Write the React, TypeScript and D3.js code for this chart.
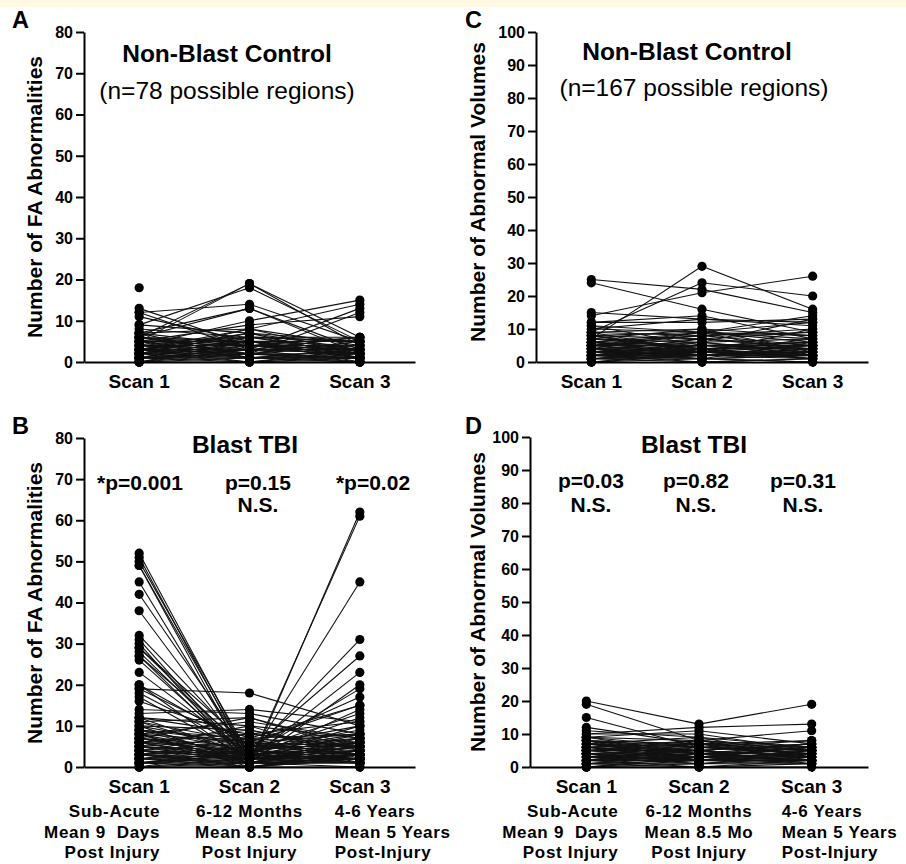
import { useEffect, useRef } from 'react';
import * as d3 from 'd3';

const scanLabels = ['Scan 1', 'Scan 2', 'Scan 3'];
const blastSubLabels = [
  ['Sub-Acute', 'Mean 9  Days', 'Post Injury'],
  ['6-12 Months', 'Mean 8.5 Mo', 'Post Injury'],
  ['4-6 Years', 'Mean 5 Years', 'Post-Injury'],
];
const faTicks = [0, 10, 20, 30, 40, 50, 60, 70, 80];
const volTicks = [0, 10, 20, 30, 40, 50, 60, 70, 80, 90, 100];

// A: FA abnormalities, non-blast control (one entry per subject)
const faControlScan1 = [18, 12, 12, 13, 11, 9, 5, 6, 6, 7, 4, 3, 2, 1, 5, 8, 9, 7, 6, 5, 4, 3, 2, 1, 0, 0, 1, 2, 3, 4, 5, 6, 7, 3, 2, 1, 0, 4, 5, 6, 3, 2, 1, 0, 4, 3, 2, 5, 6, 1, 0, 2, 3, 4, 5, 7, 1, 0, 2, 3];
const faControlScan2 = [null, 14, 3, 4, 5, 18, 19, 19, 13, 13, 10, 8, 3, 2, 9, 6, 7, 8, 5, 6, 4, 5, 7, 3, 2, 1, 0, 1, 2, 3, 4, 2, 1, 6, 4, 5, 3, 1, 2, 3, 0, 2, 1, 0, 6, 7, 8, 1, 4, 6, 4, 5, 3, 2, 5, 4, 2, 5, 0, 1];
const faControlScan3 = [null, 5, 2, 1, 3, 5, 4, 6, 3, 2, 15, 14, 13, 12, 11, 6, 5, 4, 5, 3, 6, 2, 1, 0, 1, 0, 2, 3, 1, 4, 2, 1, 0, 5, 3, 4, 2, 1, 0, 3, 1, 2, 1, 0, 2, 3, 2, 3, 4, 5, 3, 0, 6, 5, 1, 2, 4, 1, 3, 2];

// B: FA abnormalities, blast TBI
const faBlastScan1 = [52, 51, 50, 49, 49, 45, 42, 38, 32, 31, 30, 29, 29, 28, 27, 27, 26, 23, 20, 20, 19, 19, 18, 17, 16, 14, 13, 12, 12, 11, 11, 10, 10, 3, 2, 4, 5, 1, 6, 8, 7, 2, 9, 3, 4, 5, 1, 6, 0, 7, 9, 8, 7, 6, 5, 4, 3, 2, 1, 0, 9, 8, 7, 6, 5, 4, 3, 2, 1, 0, 8, 7, 6, 5, 4, 3, 2, 1, 0, 9, 10, 11, 12, 8, 6, 5, 4, 3, 2, 1];
const faBlastScan2 = [2, 1, 3, 0, 2, 1, 3, 2, 4, 1, 0, 3, 5, 2, 1, 4, 2, 3, 5, 1, 18, 6, 4, 2, 7, 13, 14, 10, 8, 12, 3, 9, 5, 0, 1, 2, 3, 4, 2, 1, 3, 5, 6, 7, 2, 4, 3, 8, 2, 5, 4, 6, 2, 5, 1, 3, 2, 4, 1, 0, 7, 3, 4, 1, 2, 6, 5, 3, 2, 1, 11, 12, 9, 10, 8, 1, 0, 3, 4, 2, 1, 6, 3, 0, 4, 7, 0, 4, 2, 0];
const faBlastScan3 = [3, 5, 2, 4, 1, 6, 2, 5, 3, 7, 2, 1, 4, 8, 3, 6, 2, 5, 7, 4, 10, 3, 9, 2, 5, 8, 11, 7, 6, 5, 2, 4, 3, 62, 61, 45, 31, 27, 23, 20, 19, 17, 15, 15, 14, 13, 12, 11, 10, 10, 3, 5, 4, 6, 2, 7, 3, 1, 2, 0, 8, 6, 2, 1, 4, 3, 5, 2, 6, 1, 7, 4, 3, 2, 5, 0, 3, 4, 2, 1, 6, 8, 2, 3, 7, 1, 2, 8, 5, 3];

// C: abnormal volumes, non-blast control
const volControlScan1 = [25, 24, 7, 9, 14, 15, 12, 12, 11, 10, 8, 9, 6, 5, 7, 8, 6, 5, 4, 3, 4, 5, 3, 2, 1, 2, 3, 4, 6, 7, 5, 2, 1, 0, 1, 3, 4, 2, 6, 8, 9, 10, 7, 5, 3, 4, 2, 1, 0, 2, 3, 6, 5, 4, 1, 0, 2, 3, 9, 11, 6, 5, 8, 1, 4];
const volControlScan2 = [22, 16, 29, 24, 21, 13, 12, 14, 5, 13, 9, 10, 8, 9, 6, 4, 3, 7, 6, 5, 9, 8, 4, 3, 2, 4, 2, 3, 5, 4, 2, 1, 3, 2, 1, 1, 2, 5, 9, 7, 8, 9, 10, 6, 7, 5, 6, 4, 3, 2, 3, 4, 3, 4, 2, 1, 0, 2, 3, 9, 2, 5, 3, 0, 1];
const volControlScan3 = [15, 9, 16, 20, 26, 12, 13, 7, 4, 11, 14, 3, 10, 8, 13, 6, 5, 9, 7, 6, 2, 5, 4, 3, 2, 1, 5, 3, 2, 1, 4, 6, 3, 1, 0, 2, 3, 4, 7, 5, 9, 12, 8, 3, 4, 6, 2, 1, 2, 3, 1, 4, 2, 5, 4, 0, 1, 2, 10, 6, 3, 5, 7, 1, 2];

// D: abnormal volumes, blast TBI
const volBlastScan1 = [20, 19, 15, 12, 11, 10, 10, 9, 9, 8, 8, 7, 7, 6, 6, 5, 5, 4, 4, 3, 3, 2, 2, 1, 1, 0, 0, 6, 7, 8, 9, 5, 4, 3, 2, 1, 5, 6, 4, 3, 2, 7, 8, 6, 5, 4, 3, 2, 1, 0, 5, 6, 7, 3, 2, 4, 1, 0, 9, 8];
const volBlastScan2 = [13, 8, 6, 7, 9, 12, 10, 11, 8, 6, 5, 9, 4, 7, 3, 5, 8, 6, 2, 4, 7, 3, 5, 2, 4, 1, 3, 5, 3, 2, 4, 6, 5, 3, 6, 1, 2, 4, 3, 2, 4, 6, 7, 8, 7, 4, 5, 2, 3, 2, 3, 2, 5, 1, 0, 1, 0, 0, 6, 4];
const volBlastScan3 = [19, 6, 4, 5, 3, 13, 5, 7, 11, 8, 7, 6, 5, 8, 4, 7, 3, 6, 5, 4, 2, 6, 3, 2, 5, 1, 2, 1, 3, 4, 2, 5, 3, 6, 4, 3, 2, 7, 1, 5, 2, 4, 6, 5, 4, 6, 7, 1, 4, 3, 6, 2, 3, 2, 1, 4, 2, 0, 5, 3];

type Note = { text: string; x: number; y: number };
type Panel = {
  letter: string; letterX: number; letterY: number;
  axisX: number; xEnd: number; yTop: number; yBottom: number; yMax: number; ticks: number[];
  scans: (number | null)[][];
  yLabel: string; yLabelX: number; yLabelY: number;
  title: string; titleX: number; titleY: number;
  subtitle?: string; subX?: number; subY?: number;
  notes: Note[]; scanY: number;
  subLabels?: string[][]; subOffsets?: number[]; subYs?: number[];
};

const FONT = '"Liberation Sans", Arial, Helvetica, sans-serif';

const panels: Panel[] = [
  {
    letter: 'A', letterX: 12, letterY: 28,
    axisX: 84, xEnd: 415, yTop: 32, yBottom: 362, yMax: 80, ticks: faTicks,
    scans: [faControlScan1, faControlScan2, faControlScan3],
    yLabel: 'Number of FA Abnormalities', yLabelX: 42, yLabelY: 197,
    title: 'Non-Blast Control', titleX: 227, titleY: 62,
    subtitle: '(n=78 possible regions)', subX: 227, subY: 99,
    notes: [], scanY: 388,
  },
  {
    letter: 'B', letterX: 12, letterY: 434,
    axisX: 84, xEnd: 415, yTop: 438, yBottom: 767, yMax: 80, ticks: faTicks,
    scans: [faBlastScan1, faBlastScan2, faBlastScan3],
    yLabel: 'Number of FA Abnormalities', yLabelX: 42, yLabelY: 603,
    title: 'Blast TBI', titleX: 245, titleY: 453,
    notes: [
      { text: '*p=0.001', x: 140, y: 490 },
      { text: 'p=0.15', x: 258, y: 490 },
      { text: 'N.S.', x: 258, y: 512 },
      { text: '*p=0.02', x: 373, y: 490 },
    ],
    scanY: 793, subLabels: blastSubLabels, subOffsets: [21, 0, -25], subYs: [817, 838, 858],
  },
  {
    letter: 'C', letterX: 465, letterY: 28,
    axisX: 536, xEnd: 868, yTop: 32, yBottom: 362, yMax: 100, ticks: volTicks,
    scans: [volControlScan1, volControlScan2, volControlScan3],
    yLabel: 'Number of Abnormal Volumes', yLabelX: 485, yLabelY: 192,
    title: 'Non-Blast Control', titleX: 687, titleY: 60,
    subtitle: '(n=167 possible regions)', subX: 694, subY: 96,
    notes: [], scanY: 388,
  },
  {
    letter: 'D', letterX: 465, letterY: 434,
    axisX: 530, xEnd: 868, yTop: 437, yBottom: 767, yMax: 100, ticks: volTicks,
    scans: [volBlastScan1, volBlastScan2, volBlastScan3],
    yLabel: 'Number of Abnormal Volumes', yLabelX: 485, yLabelY: 602,
    title: 'Blast TBI', titleX: 694, titleY: 453,
    notes: [
      { text: 'p=0.03', x: 591, y: 488 },
      { text: 'N.S.', x: 591, y: 512 },
      { text: 'p=0.82', x: 696, y: 488 },
      { text: 'N.S.', x: 696, y: 512 },
      { text: 'p=0.31', x: 803, y: 488 },
      { text: 'N.S.', x: 803, y: 512 },
    ],
    scanY: 793, subLabels: blastSubLabels, subOffsets: [32, 0, -30], subYs: [817, 838, 858],
  },
];

const drawPanel = (svg: d3.Selection<SVGSVGElement, unknown, null, undefined>, p: Panel) => {
  const g = svg.append('g');

  const x = d3.scalePoint<string>().domain(scanLabels).range([p.axisX, p.xEnd]).padding(0.5);
  const y = d3.scaleLinear().domain([0, p.yMax]).range([p.yBottom, p.yTop]);

  // Subject lines (scan to scan)
  const n = p.scans[0].length;
  const lineGen = d3.line<[string, number]>().x(d => x(d[0]) as number).y(d => y(d[1]));
  for (let i = 0; i < n; i++) {
    for (let s = 0; s < 2; s++) {
      const a = p.scans[s][i];
      const b = p.scans[s + 1][i];
      if (a == null || b == null) continue;
      g.append('path')
        .attr('d', lineGen([[scanLabels[s], a], [scanLabels[s + 1], b]]))
        .attr('fill', 'none')
        .attr('stroke', '#111')
        .attr('stroke-width', 1.1);
    }
  }

  // Dots
  p.scans.forEach((vals, s) => {
    g.selectAll(null)
      .data(vals.filter(v => v != null) as number[])
      .enter()
      .append('circle')
      .attr('cx', x(scanLabels[s]) as number)
      .attr('cy', d => y(d))
      .attr('r', 4.6)
      .attr('fill', '#000');
  });

  // Y axis (ticks + domain from d3.axis, labels drawn below)
  g.append('g')
    .attr('transform', `translate(${p.axisX},0)`)
    .attr('stroke-width', 2)
    .call(d3.axisLeft(y).tickValues(p.ticks).tickSize(8).tickSizeOuter(0).tickFormat(() => ''));

  g.selectAll(null)
    .data(p.ticks)
    .enter()
    .append('text')
    .attr('x', p.axisX - 11)
    .attr('y', d => y(d))
    .attr('dy', '0.36em')
    .attr('text-anchor', 'end')
    .attr('font-family', FONT)
    .attr('font-weight', 'bold')
    .attr('font-size', 16)
    .attr('fill', '#000')
    .text(d => String(d));

  // X axis
  g.append('g')
    .attr('transform', `translate(0,${p.yBottom})`)
    .attr('stroke-width', 2)
    .call(d3.axisBottom(x).tickSize(5).tickSizeOuter(0).tickFormat(() => ''));

  const text = (t: string, tx: number, ty: number, size: number, anchor = 'middle', weight = 'bold') =>
    g.append('text')
      .attr('x', tx)
      .attr('y', ty)
      .attr('text-anchor', anchor)
      .attr('font-family', FONT)
      .attr('font-weight', weight)
      .attr('font-size', size)
      .attr('fill', '#000')
      .style('white-space', 'pre')
      .text(t);

  scanLabels.forEach(l => text(l, x(l) as number, p.scanY, 19));

  if (p.subLabels && p.subOffsets && p.subYs) {
    const anchors = ['end', 'middle', 'start'];
    p.subLabels.forEach((lines, s) => {
      lines.forEach((l, k) => {
        text(l, (x(scanLabels[s]) as number) + p.subOffsets![s], p.subYs![k], 17, anchors[s])
          .attr('letter-spacing', 0.7);
      });
    });
  }

  text(p.letter, p.letterX, p.letterY, 23.5, 'start');
  text(p.title, p.titleX, p.titleY, 24.5);
  if (p.subtitle) text(p.subtitle, p.subX!, p.subY!, 24.5, 'middle', 'normal');
  p.notes.forEach(nt => text(nt.text, nt.x, nt.y, 21));

  text(p.yLabel, 0, 0, 21)
    .attr('x', null)
    .attr('y', null)
    .attr('transform', `translate(${p.yLabelX},${p.yLabelY}) rotate(-90)`);
};

const App = () => {
  const svgRef = useRef<SVGSVGElement>(null);

  useEffect(() => {
    const svg = d3.select(svgRef.current as SVGSVGElement);
    svg.selectAll('*').remove();
    svg.append('rect').attr('x', 0).attr('y', 0).attr('width', 906).attr('height', 864).attr('fill', '#fff');
    svg.append('rect').attr('x', 0).attr('y', 0).attr('width', 906).attr('height', 7).attr('fill', '#fff8e3');
    panels.forEach(p => drawPanel(svg, p));
  }, []);

  return (
    <svg
      ref={svgRef}
      width={906}
      height={864}
      style={{ position: 'absolute', left: 0, top: 0 }}
    />
  );
};

export default App;
